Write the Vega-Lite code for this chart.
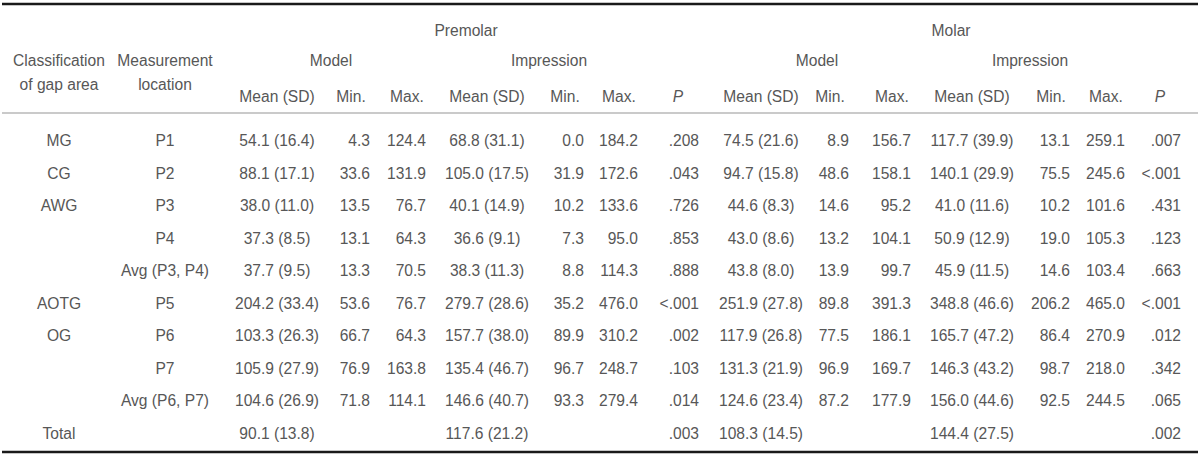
{
  "$schema": "https://vega.github.io/schema/vega-lite/v6.json",
  "width": 1200,
  "height": 459,
  "autosize": {"type": "fit", "contains": "padding"},
  "padding": 0,
  "background": "white",
  "config": {
    "view": {"stroke": null},
    "text": {"font": "Liberation Sans", "fontSize": 15.6, "color": "#575757", "baseline": "middle"}
  },
  "datasets": {
    "rows": [
      {"line": 1, "cls": "MG", "loc": "P1", "pm_mean": "54.1 (16.4)", "pm_min": "4.3", "pm_max": "124.4", "pi_mean": "68.8 (31.1)", "pi_min": "0.0", "pi_max": "184.2", "p_pre": ".208", "mm_mean": "74.5 (21.6)", "mm_min": "8.9", "mm_max": "156.7", "mi_mean": "117.7 (39.9)", "mi_min": "13.1", "mi_max": "259.1", "p_mol": ".007"},
      {"line": 2, "cls": "CG", "loc": "P2", "pm_mean": "88.1 (17.1)", "pm_min": "33.6", "pm_max": "131.9", "pi_mean": "105.0 (17.5)", "pi_min": "31.9", "pi_max": "172.6", "p_pre": ".043", "mm_mean": "94.7 (15.8)", "mm_min": "48.6", "mm_max": "158.1", "mi_mean": "140.1 (29.9)", "mi_min": "75.5", "mi_max": "245.6", "p_mol": "<.001"},
      {"line": 3, "cls": "AWG", "loc": "P3", "pm_mean": "38.0 (11.0)", "pm_min": "13.5", "pm_max": "76.7", "pi_mean": "40.1 (14.9)", "pi_min": "10.2", "pi_max": "133.6", "p_pre": ".726", "mm_mean": "44.6 (8.3)", "mm_min": "14.6", "mm_max": "95.2", "mi_mean": "41.0 (11.6)", "mi_min": "10.2", "mi_max": "101.6", "p_mol": ".431"},
      {"line": 4, "cls": "", "loc": "P4", "pm_mean": "37.3 (8.5)", "pm_min": "13.1", "pm_max": "64.3", "pi_mean": "36.6 (9.1)", "pi_min": "7.3", "pi_max": "95.0", "p_pre": ".853", "mm_mean": "43.0 (8.6)", "mm_min": "13.2", "mm_max": "104.1", "mi_mean": "50.9 (12.9)", "mi_min": "19.0", "mi_max": "105.3", "p_mol": ".123"},
      {"line": 5, "cls": "", "loc": "Avg (P3, P4)", "pm_mean": "37.7 (9.5)", "pm_min": "13.3", "pm_max": "70.5", "pi_mean": "38.3 (11.3)", "pi_min": "8.8", "pi_max": "114.3", "p_pre": ".888", "mm_mean": "43.8 (8.0)", "mm_min": "13.9", "mm_max": "99.7", "mi_mean": "45.9 (11.5)", "mi_min": "14.6", "mi_max": "103.4", "p_mol": ".663"},
      {"line": 6, "cls": "AOTG", "loc": "P5", "pm_mean": "204.2 (33.4)", "pm_min": "53.6", "pm_max": "76.7", "pi_mean": "279.7 (28.6)", "pi_min": "35.2", "pi_max": "476.0", "p_pre": "<.001", "mm_mean": "251.9 (27.8)", "mm_min": "89.8", "mm_max": "391.3", "mi_mean": "348.8 (46.6)", "mi_min": "206.2", "mi_max": "465.0", "p_mol": "<.001"},
      {"line": 7, "cls": "OG", "loc": "P6", "pm_mean": "103.3 (26.3)", "pm_min": "66.7", "pm_max": "64.3", "pi_mean": "157.7 (38.0)", "pi_min": "89.9", "pi_max": "310.2", "p_pre": ".002", "mm_mean": "117.9 (26.8)", "mm_min": "77.5", "mm_max": "186.1", "mi_mean": "165.7 (47.2)", "mi_min": "86.4", "mi_max": "270.9", "p_mol": ".012"},
      {"line": 8, "cls": "", "loc": "P7", "pm_mean": "105.9 (27.9)", "pm_min": "76.9", "pm_max": "163.8", "pi_mean": "135.4 (46.7)", "pi_min": "96.7", "pi_max": "248.7", "p_pre": ".103", "mm_mean": "131.3 (21.9)", "mm_min": "96.9", "mm_max": "169.7", "mi_mean": "146.3 (43.2)", "mi_min": "98.7", "mi_max": "218.0", "p_mol": ".342"},
      {"line": 9, "cls": "", "loc": "Avg (P6, P7)", "pm_mean": "104.6 (26.9)", "pm_min": "71.8", "pm_max": "114.1", "pi_mean": "146.6 (40.7)", "pi_min": "93.3", "pi_max": "279.4", "p_pre": ".014", "mm_mean": "124.6 (23.4)", "mm_min": "87.2", "mm_max": "177.9", "mi_mean": "156.0 (44.6)", "mi_min": "92.5", "mi_max": "244.5", "p_mol": ".065"},
      {"line": 10, "cls": "Total", "loc": "", "pm_mean": "90.1 (13.8)", "pm_min": "", "pm_max": "", "pi_mean": "117.6 (21.2)", "pi_min": "", "pi_max": "", "p_pre": ".003", "mm_mean": "108.3 (14.5)", "mm_min": "", "mm_max": "", "mi_mean": "144.4 (27.5)", "mi_min": "", "mi_max": "", "p_mol": ".002"}
    ],
    "columns": [
      {"key": "cls", "col": 1}, {"key": "loc", "col": 2},
      {"key": "pm_mean", "col": 3}, {"key": "pm_min", "col": 4}, {"key": "pm_max", "col": 5},
      {"key": "pi_mean", "col": 6}, {"key": "pi_min", "col": 7}, {"key": "pi_max", "col": 8},
      {"key": "p_pre", "col": 9},
      {"key": "mm_mean", "col": 10}, {"key": "mm_min", "col": 11}, {"key": "mm_max", "col": 12},
      {"key": "mi_mean", "col": 13}, {"key": "mi_min", "col": 14}, {"key": "mi_max", "col": 15},
      {"key": "p_mol", "col": 16}
    ],
    "headers": [
      {"text": "Premolar", "line": -3, "col": 5.5, "kind": "span"},
      {"text": "Molar", "line": -3, "col": 12.5, "kind": "span"},
      {"text": "Classification\nof gap area", "line": -2, "col": 1, "kind": "span"},
      {"text": "Measurement\nlocation", "line": -2, "col": 2, "kind": "span"},
      {"text": "Model", "line": -2, "col": 3.5, "kind": "span"},
      {"text": "Impression", "line": -2, "col": 6.5, "kind": "span"},
      {"text": "Model", "line": -2, "col": 10.5, "kind": "span"},
      {"text": "Impression", "line": -2, "col": 13.5, "kind": "span"},
      {"text": "Mean (SD)", "line": -1, "col": 3, "kind": "span"},
      {"text": "Min.", "line": -1, "col": 4, "kind": "num"},
      {"text": "Max.", "line": -1, "col": 5, "kind": "num"},
      {"text": "Mean (SD)", "line": -1, "col": 6, "kind": "span"},
      {"text": "Min.", "line": -1, "col": 7, "kind": "num"},
      {"text": "Max.", "line": -1, "col": 8, "kind": "num"},
      {"text": "P", "line": -1, "col": 9, "kind": "p"},
      {"text": "Mean (SD)", "line": -1, "col": 10, "kind": "span"},
      {"text": "Min.", "line": -1, "col": 11, "kind": "num"},
      {"text": "Max.", "line": -1, "col": 12, "kind": "num"},
      {"text": "Mean (SD)", "line": -1, "col": 13, "kind": "span"},
      {"text": "Min.", "line": -1, "col": 14, "kind": "num"},
      {"text": "Max.", "line": -1, "col": 15, "kind": "num"},
      {"text": "P", "line": -1, "col": 16, "kind": "p"}
    ],
    "rules": [
      {"line": -4, "kind": "thick"},
      {"line": 0, "kind": "thin"},
      {"line": 11, "kind": "thick"}
    ]
  },
  "layer": [
    {
      "data": {"name": "rules"},
      "transform": [{"filter": "datum.kind === 'thick'"}],
      "mark": {"type": "rule", "strokeWidth": 2.6, "color": "#1a1a1a"},
      "encoding": {
        "y": {"field": "line", "type": "quantitative", "axis": null,
              "scale": {"domain": [-4, -3, -2, -1, 0, 1, 10, 11], "range": [4, 31, 61, 97, 113, 141, 434, 452], "zero": false, "nice": false}}
      }
    },
    {
      "data": {"name": "rules"},
      "transform": [{"filter": "datum.kind === 'thin'"}],
      "mark": {"type": "rule", "strokeWidth": 1.2, "color": "#959595"},
      "encoding": {
        "y": {"field": "line", "type": "quantitative", "axis": null,
              "scale": {"domain": [-4, -3, -2, -1, 0, 1, 10, 11], "range": [4, 31, 61, 97, 113, 141, 434, 452], "zero": false, "nice": false}}
      }
    },
    {
      "data": {"name": "headers"},
      "transform": [{"filter": "datum.kind === 'span'"}],
      "mark": {"type": "text", "align": "center", "lineBreak": "\n", "lineHeight": 24},
      "encoding": {
        "x": {"field": "col", "type": "quantitative", "axis": null,
              "scale": {"domain": [1, 2, 3, 3.5, 4, 5, 5.5, 6, 6.5, 7, 8, 9, 10, 10.5, 11, 12, 12.5, 13, 13.5, 14, 15, 16], "range": [57, 163, 275, 329, 368, 424, 464, 485, 547, 582, 636, 697, 759, 815, 847, 909, 949, 970, 1028, 1068, 1123, 1179], "zero": false, "nice": false}},
        "y": {"field": "line", "type": "quantitative", "axis": null,
              "scale": {"domain": [-4, -3, -2, -1, 0, 1, 10, 11], "range": [4, 31, 61, 97, 113, 141, 434, 452], "zero": false, "nice": false}},
        "text": {"field": "text"}
      }
    },
    {
      "data": {"name": "headers"},
      "transform": [{"filter": "datum.kind === 'num'"}],
      "mark": {"type": "text", "align": "center", "dx": -19},
      "encoding": {
        "x": {"field": "col", "type": "quantitative", "axis": null,
              "scale": {"domain": [1, 2, 3, 3.5, 4, 5, 5.5, 6, 6.5, 7, 8, 9, 10, 10.5, 11, 12, 12.5, 13, 13.5, 14, 15, 16], "range": [57, 163, 275, 329, 368, 424, 464, 485, 547, 582, 636, 697, 759, 815, 847, 909, 949, 970, 1028, 1068, 1123, 1179], "zero": false, "nice": false}},
        "y": {"field": "line", "type": "quantitative", "axis": null,
              "scale": {"domain": [-4, -3, -2, -1, 0, 1, 10, 11], "range": [4, 31, 61, 97, 113, 141, 434, 452], "zero": false, "nice": false}},
        "text": {"field": "text"}
      }
    },
    {
      "data": {"name": "headers"},
      "transform": [{"filter": "datum.kind === 'p'"}],
      "mark": {"type": "text", "align": "center", "dx": -21, "fontStyle": "italic"},
      "encoding": {
        "x": {"field": "col", "type": "quantitative", "axis": null,
              "scale": {"domain": [1, 2, 3, 3.5, 4, 5, 5.5, 6, 6.5, 7, 8, 9, 10, 10.5, 11, 12, 12.5, 13, 13.5, 14, 15, 16], "range": [57, 163, 275, 329, 368, 424, 464, 485, 547, 582, 636, 697, 759, 815, 847, 909, 949, 970, 1028, 1068, 1123, 1179], "zero": false, "nice": false}},
        "y": {"field": "line", "type": "quantitative", "axis": null,
              "scale": {"domain": [-4, -3, -2, -1, 0, 1, 10, 11], "range": [4, 31, 61, 97, 113, 141, 434, 452], "zero": false, "nice": false}},
        "text": {"field": "text"}
      }
    },
    {
      "data": {"name": "rows"},
      "transform": [
        {"fold": ["cls", "loc", "pm_mean", "pi_mean", "mm_mean", "mi_mean"], "as": ["key", "value"]},
        {"filter": "datum.value !== ''"},
        {"lookup": "key", "from": {"data": {"name": "columns"}, "key": "key", "fields": ["col"]}}
      ],
      "mark": {"type": "text", "align": "center"},
      "encoding": {
        "x": {"field": "col", "type": "quantitative", "axis": null,
              "scale": {"domain": [1, 2, 3, 3.5, 4, 5, 5.5, 6, 6.5, 7, 8, 9, 10, 10.5, 11, 12, 12.5, 13, 13.5, 14, 15, 16], "range": [57, 163, 275, 329, 368, 424, 464, 485, 547, 582, 636, 697, 759, 815, 847, 909, 949, 970, 1028, 1068, 1123, 1179], "zero": false, "nice": false}},
        "y": {"field": "line", "type": "quantitative", "axis": null,
              "scale": {"domain": [-4, -3, -2, -1, 0, 1, 10, 11], "range": [4, 31, 61, 97, 113, 141, 434, 452], "zero": false, "nice": false}},
        "text": {"field": "value"}
      }
    },
    {
      "data": {"name": "rows"},
      "transform": [
        {"fold": ["pm_min", "pm_max", "pi_min", "pi_max", "p_pre", "mm_min", "mm_max", "mi_min", "mi_max", "p_mol"], "as": ["key", "value"]},
        {"filter": "datum.value !== ''"},
        {"lookup": "key", "from": {"data": {"name": "columns"}, "key": "key", "fields": ["col"]}}
      ],
      "mark": {"type": "text", "align": "right"},
      "encoding": {
        "x": {"field": "col", "type": "quantitative", "axis": null,
              "scale": {"domain": [1, 2, 3, 3.5, 4, 5, 5.5, 6, 6.5, 7, 8, 9, 10, 10.5, 11, 12, 12.5, 13, 13.5, 14, 15, 16], "range": [57, 163, 275, 329, 368, 424, 464, 485, 547, 582, 636, 697, 759, 815, 847, 909, 949, 970, 1028, 1068, 1123, 1179], "zero": false, "nice": false}},
        "y": {"field": "line", "type": "quantitative", "axis": null,
              "scale": {"domain": [-4, -3, -2, -1, 0, 1, 10, 11], "range": [4, 31, 61, 97, 113, 141, 434, 452], "zero": false, "nice": false}},
        "text": {"field": "value"}
      }
    }
  ]
}
